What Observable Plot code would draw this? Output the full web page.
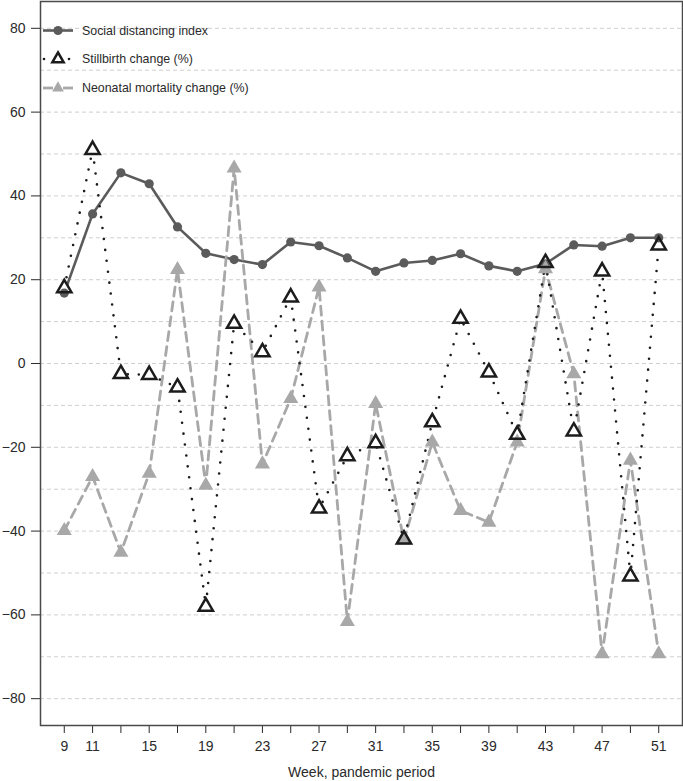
<!DOCTYPE html>
<html>
<head>
<meta charset="utf-8">
<script src="https://cdn.jsdelivr.net/npm/d3@7"></script>
<script src="https://cdn.jsdelivr.net/npm/@observablehq/plot@0.6"></script>
<style>
  html, body { margin: 0; padding: 0; background: #fff; }
  #wrap { position: relative; width: 683px; height: 781px; font-family: "Liberation Sans", Arial, sans-serif; }
  #legend { position: absolute; left: 0; top: 0; }
</style>
</head>
<body>
<div id="wrap"></div>
<script>
const weeks = [9, 11, 13, 15, 17, 19, 21, 23, 25, 27, 29, 31, 33, 35, 37, 39, 41, 43, 45, 47, 49, 51];
const socialDistancing = [16.8, 35.7, 45.5, 42.9, 32.6, 26.3, 24.8, 23.6, 29.0, 28.1, 25.2, 22.0, 24.0, 24.6, 26.2, 23.3, 22.0, 23.8, 28.3, 28.0, 30.0, 30.0];
const stillbirthChange = [18.0, 51.0, -2.5, -2.7, -5.7, -58.0, 9.5, 2.7, 15.8, -34.6, -22.1, -19.0, -42.0, -14.0, 10.7, -2.1, -17.0, 24.0, -16.2, 22.0, -50.8, 28.2];
const neonatalChange = [-39.9, -27.0, -45.1, -26.2, 22.4, -29.1, 46.6, -24.0, -8.4, 18.2, -61.6, -9.6, -42.2, -18.8, -35.1, -37.9, -18.8, 22.6, -2.5, -69.3, -23.1, -69.3];

const xTickValues = [9, 11, 13, 15, 17, 19, 21, 23, 25, 27, 29, 31, 33, 35, 37, 39, 41, 43, 45, 47, 49, 51];
const xTickLabels = [9, 11, 15, 19, 23, 27, 31, 35, 39, 43, 47, 51];
const yTickValues = [-80, -60, -40, -20, 0, 20, 40, 60, 80];
const gridValues = [-80, -70, -60, -50, -40, -30, -20, -10, 0, 10, 20, 30, 40, 50, 60, 70, 80];
const seriesNames = ["Social distancing index", "Stillbirth change (%)", "Neonatal mortality change (%)"];
const xTitle = "Week, pandemic period";

const rows = weeks.map((w, i) => ({week: w, social: socialDistancing[i], still: stillbirthChange[i], neo: neonatalChange[i]}));

const cSocial = "#5b5b5b", cStill = "#1c1c1c", cNeo = "#a8a8a8";

const chart = Plot.plot({
  width: 683,
  height: 781,
  marginLeft: 40,
  marginRight: 1,
  marginTop: 1,
  marginBottom: 56,
  x: {domain: [7.32, 52.68]},
  y: {domain: [-86.4, 86.4]},
  style: {fontFamily: "'Liberation Sans', Arial, sans-serif", fontSize: "14px", color: "#2a2a2a", background: "#fff"},
  marks: [
    Plot.ruleY(gridValues, {stroke: "#cfcfcf", strokeWidth: 1, strokeDasharray: "4,3"}),
    Plot.axisY({ticks: yTickValues, tickSize: 9, tickPadding: 6, label: null, fontSize: 14, tickFormat: d => d < 0 ? "\u2212" + Math.abs(d) : String(d)}),
    Plot.axisX({ticks: xTickValues, tickSize: 8, tickPadding: 8, label: null, fontSize: 14, tickFormat: d => xTickLabels.includes(d) ? String(d) : ""}),
    Plot.text([xTitle], {frameAnchor: "bottom", dy: 51, fontSize: 14, fill: "#2a2a2a", text: d => d}),
    Plot.frame({stroke: "#4a4a4a", strokeWidth: 1.5}),
    Plot.line(rows, {x: "week", y: "social", stroke: cSocial, strokeWidth: 2.6}),
    Plot.line(rows, {x: "week", y: "neo", stroke: cNeo, strokeWidth: 2.8, strokeDasharray: "9,6"}),
    Plot.line(rows, {x: "week", y: "still", stroke: cStill, strokeWidth: 2.6, strokeDasharray: "0,11", strokeLinecap: "round"}),
    Plot.dot(rows, {x: "week", y: "still", symbol: "triangle", r: 6.5, fill: "#fff", stroke: "none"}),
    Plot.dot(rows, {x: "week", y: "social", r: 4.6, fill: cSocial, stroke: "none"}),
    Plot.dot(rows, {x: "week", y: "neo", symbol: "triangle", r: 5.6, fill: cNeo, stroke: "none"}),
    Plot.dot(rows, {x: "week", y: "still", symbol: "triangle", r: 5.3, fill: "none", stroke: cStill, strokeWidth: 2.5})
  ]
});

const wrap = document.getElementById("wrap");
wrap.appendChild(chart);

// Legend (overlay, top-left inside the frame)
const leg = d3.create("svg").attr("id", "legend").attr("width", 300).attr("height", 110)
  .style("position", "absolute").style("left", "0px").style("top", "0px");
const rowY = [30.5, 59, 88];
const triPath = d3.symbol(d3.symbolTriangle2, Math.PI * 5.4 * 5.4)();
// row 1
leg.append("line").attr("x1", 43).attr("x2", 73).attr("y1", rowY[0]).attr("y2", rowY[0]).attr("stroke", cSocial).attr("stroke-width", 2.6);
leg.append("circle").attr("cx", 58).attr("cy", rowY[0]).attr("r", 4.6).attr("fill", cSocial);
// row 2
leg.append("circle").attr("cx", 44).attr("cy", rowY[1]).attr("r", 1.3).attr("fill", cStill);
leg.append("circle").attr("cx", 69).attr("cy", rowY[1]).attr("r", 1.3).attr("fill", cStill);
leg.append("path").attr("d", triPath).attr("transform", `translate(58,${rowY[1]})`).attr("fill", "none").attr("stroke", cStill).attr("stroke-width", 2.5);
// row 3
leg.append("line").attr("x1", 43).attr("x2", 53).attr("y1", rowY[2]).attr("y2", rowY[2]).attr("stroke", cNeo).attr("stroke-width", 2.8);
leg.append("line").attr("x1", 63).attr("x2", 73).attr("y1", rowY[2]).attr("y2", rowY[2]).attr("stroke", cNeo).attr("stroke-width", 2.8);
leg.append("path").attr("d", d3.symbol(d3.symbolTriangle2, Math.PI * 5.6 * 5.6)()).attr("transform", `translate(58,${rowY[2]})`).attr("fill", cNeo);
seriesNames.forEach((name, i) => {
  leg.append("text").attr("x", 82).attr("y", rowY[i]).attr("dy", "0.35em")
    .attr("font-family", "'Liberation Sans', Arial, sans-serif").attr("font-size", 12.4).attr("fill", "#2a2a2a").text(name);
});
wrap.appendChild(leg.node());
</script>
</body>
</html>
